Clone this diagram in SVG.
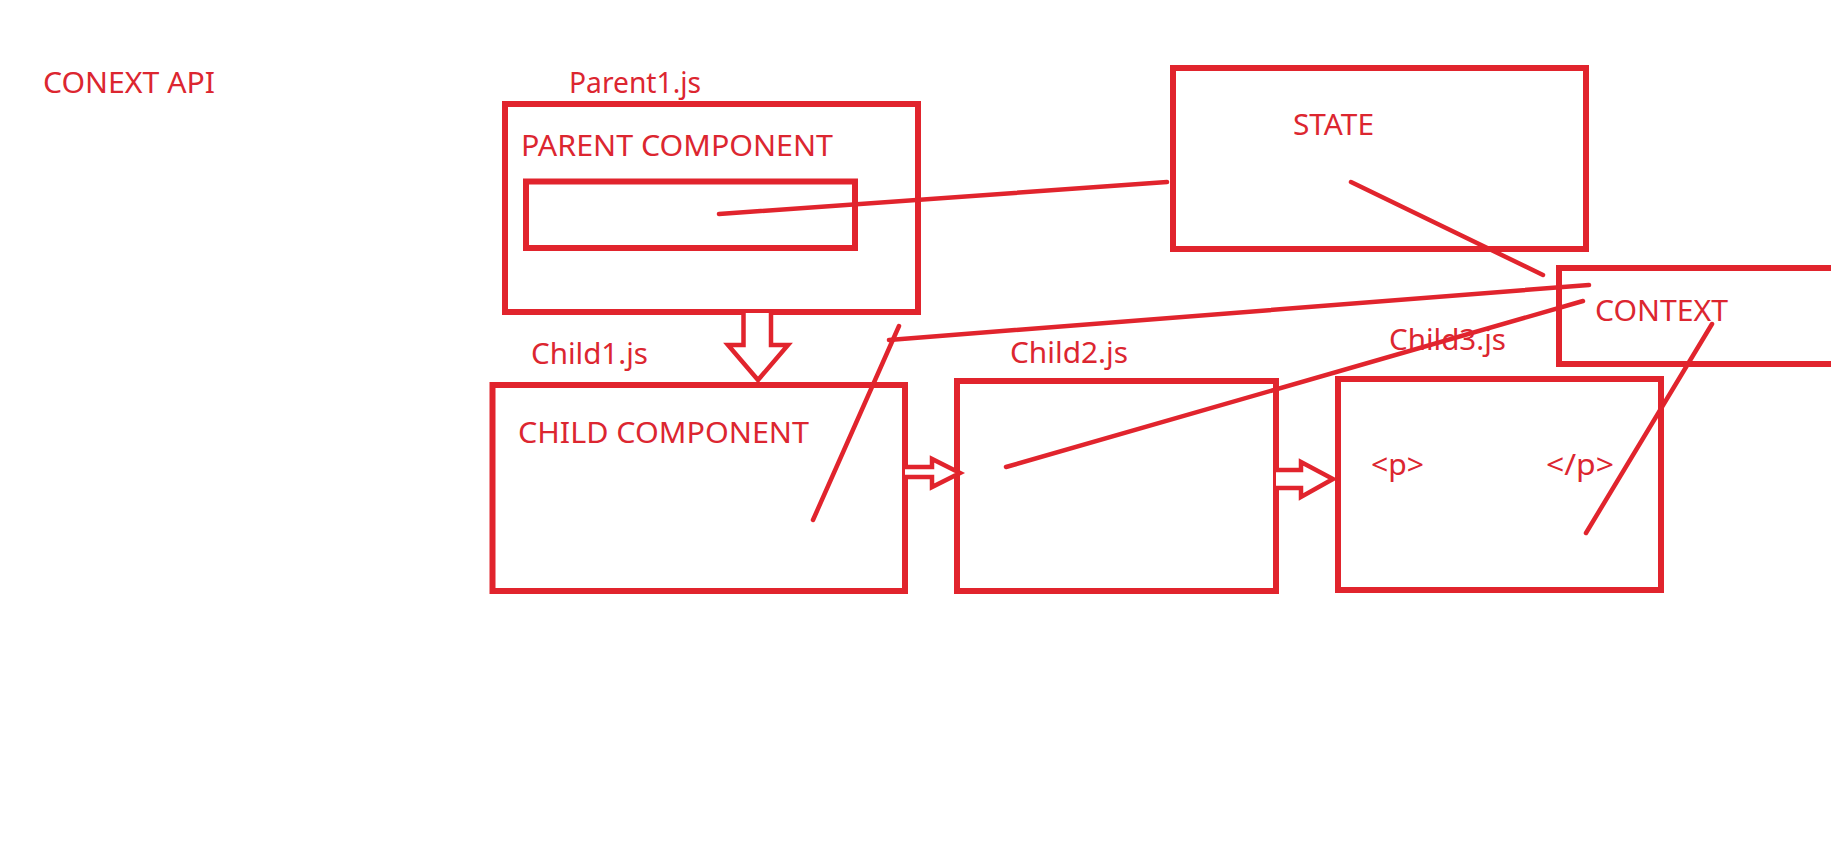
<svg xmlns="http://www.w3.org/2000/svg" width="1831" height="846" viewBox="0 0 1831 846">
<style>
.box{fill:none;stroke:#e1242d;stroke-width:6}
.ln{fill:none;stroke:#e1242d;stroke-width:4.5;stroke-linecap:round}
.arr{fill:#fff;stroke:#e1242d;stroke-width:4.5;stroke-linejoin:miter}
text{font-family:"Noto Sans","Open Sans","Liberation Sans",sans-serif;font-size:29px;fill:#dc2630}
</style>
<rect width="1831" height="846" fill="#fff"/>
<g id="title"><text x="43" y="93" textLength="172" lengthAdjust="spacingAndGlyphs">CONEXT API</text></g>
<g id="parent">
<text x="569" y="93" textLength="132" lengthAdjust="spacingAndGlyphs">Parent1.js</text>
<rect class="box" x="505" y="104" width="413" height="208"/>
<text x="521" y="156" textLength="312" lengthAdjust="spacingAndGlyphs">PARENT COMPONENT</text>
<rect class="box" x="526" y="181.5" width="329" height="66.5"/>
</g>
<g id="state">
<rect class="box" x="1173" y="68" width="413" height="181"/>
<text x="1293" y="135" textLength="81" lengthAdjust="spacingAndGlyphs">STATE</text>
</g>
<g id="context">
<rect class="box" x="1559" y="268" width="290" height="96"/>
<text x="1595" y="321" textLength="133" lengthAdjust="spacingAndGlyphs">CONTEXT</text>
</g>
<g id="child1">
<text x="531" y="364" textLength="117" lengthAdjust="spacingAndGlyphs">Child1.js</text>
<rect class="box" x="492.5" y="385" width="412.5" height="206"/>
<text x="518" y="443" textLength="291" lengthAdjust="spacingAndGlyphs">CHILD COMPONENT</text>
</g>
<g id="child2">
<text x="1010" y="363" textLength="118" lengthAdjust="spacingAndGlyphs">Child2.js</text>
<rect class="box" x="957" y="381" width="319" height="210"/>
</g>
<g id="child3">
<text x="1389" y="350" textLength="117" lengthAdjust="spacingAndGlyphs">Child3.js</text>
<rect class="box" x="1338" y="379" width="323" height="211"/>
<text x="1371" y="475" textLength="53" lengthAdjust="spacingAndGlyphs">&lt;p&gt;</text>
<text x="1546" y="475" textLength="68" lengthAdjust="spacingAndGlyphs">&lt;/p&gt;</text>
</g>
<g id="connectors">
<path class="arr" d="M743.5,313 V345 H728 L758,380 L788,345 H771 V313"/>
<path class="arr" d="M905,467 H932 V459 L960,473 L932,487 V477 H905"/>
<path class="arr" d="M1276,470 H1301 V462 L1333,479 L1301,497 V488 H1276"/>
<line class="ln" x1="719" y1="214" x2="1167" y2="182"/>
<line class="ln" x1="1351" y1="182" x2="1543" y2="275"/>
<line class="ln" x1="813" y1="520" x2="899" y2="326"/>
<line class="ln" x1="889" y1="340" x2="1589" y2="285"/>
<line class="ln" x1="1006" y1="467" x2="1583" y2="301"/>
<line class="ln" x1="1712" y1="324" x2="1586" y2="533"/>
</g>
</svg>
